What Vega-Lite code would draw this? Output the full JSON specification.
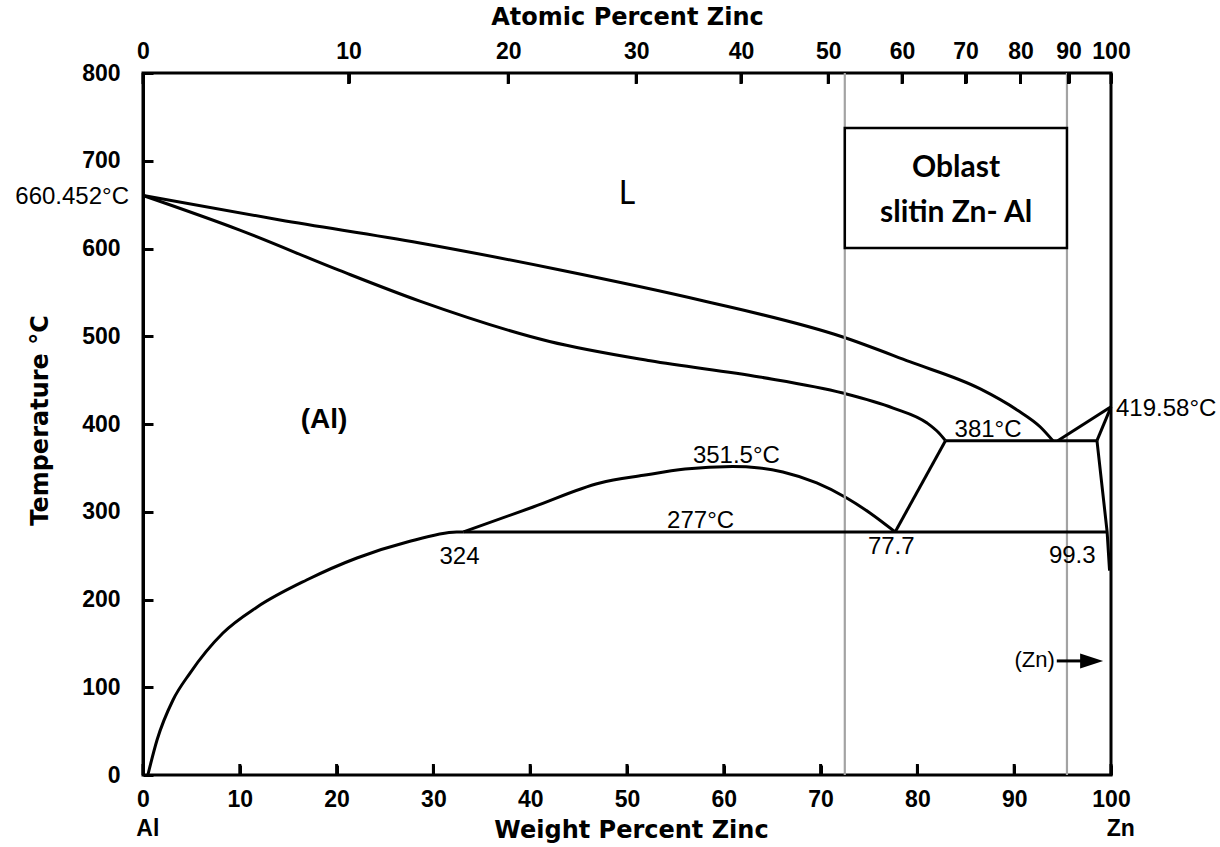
{
  "$schema": "https://vega.github.io/schema/vega-lite/v6.json",
  "width": 968,
  "height": 702,
  "autosize": {"type": "none"},
  "padding": {"left": 143, "top": 73, "right": 109, "bottom": 72},
  "background": "white",
  "config": {"view": {"stroke": "black", "strokeWidth": 3}, "font": "Liberation Sans"},
  "datasets": {
    "curves": [
      {"series": "liquidus", "o": 0, "wt": 0, "T": 660.452},
      {"series": "liquidus", "o": 1, "wt": 14.15, "T": 632.5},
      {"series": "liquidus", "o": 2, "wt": 28.6, "T": 606.3},
      {"series": "liquidus", "o": 3, "wt": 43.1, "T": 575.5},
      {"series": "liquidus", "o": 4, "wt": 57.5, "T": 541.3},
      {"series": "liquidus", "o": 5, "wt": 72.3, "T": 499.1},
      {"series": "liquidus", "o": 6, "wt": 79.2, "T": 471},
      {"series": "liquidus", "o": 7, "wt": 86.5, "T": 440},
      {"series": "liquidus", "o": 8, "wt": 90.3, "T": 416},
      {"series": "liquidus", "o": 9, "wt": 92.7, "T": 396.6},
      {"series": "liquidus", "o": 10, "wt": 94, "T": 381},
      {"series": "solidus", "o": 0, "wt": 0, "T": 660.452},
      {"series": "solidus", "o": 1, "wt": 10, "T": 621},
      {"series": "solidus", "o": 2, "wt": 20.3, "T": 575},
      {"series": "solidus", "o": 3, "wt": 28.6, "T": 540},
      {"series": "solidus", "o": 4, "wt": 42, "T": 494},
      {"series": "solidus", "o": 5, "wt": 52.4, "T": 472},
      {"series": "solidus", "o": 6, "wt": 63.7, "T": 453.6},
      {"series": "solidus", "o": 7, "wt": 72.3, "T": 435.3},
      {"series": "solidus", "o": 8, "wt": 77.5, "T": 418.2},
      {"series": "solidus", "o": 9, "wt": 81, "T": 401.1},
      {"series": "solidus", "o": 10, "wt": 82.2, "T": 390},
      {"series": "solidus", "o": 11, "wt": 82.9, "T": 381},
      {"series": "dome", "o": 0, "wt": 33.1, "T": 277},
      {"series": "dome", "o": 1, "wt": 40.3, "T": 305.4},
      {"series": "dome", "o": 2, "wt": 47.2, "T": 332.8},
      {"series": "dome", "o": 3, "wt": 51.7, "T": 341.5},
      {"series": "dome", "o": 4, "wt": 56, "T": 348.6},
      {"series": "dome", "o": 5, "wt": 60.9, "T": 351.5},
      {"series": "dome", "o": 6, "wt": 63.7, "T": 349.9},
      {"series": "dome", "o": 7, "wt": 66.1, "T": 345.3},
      {"series": "dome", "o": 8, "wt": 69.6, "T": 332.8},
      {"series": "dome", "o": 9, "wt": 72.7, "T": 315.7},
      {"series": "dome", "o": 10, "wt": 75.1, "T": 298.6},
      {"series": "dome", "o": 11, "wt": 77.7, "T": 277},
      {"series": "solvus", "o": 0, "wt": 0.5, "T": 0},
      {"series": "solvus", "o": 1, "wt": 1.45, "T": 39.9},
      {"series": "solvus", "o": 2, "wt": 3.1, "T": 85.5},
      {"series": "solvus", "o": 3, "wt": 4.86, "T": 116.2},
      {"series": "solvus", "o": 4, "wt": 8.26, "T": 161.8},
      {"series": "solvus", "o": 5, "wt": 11.8, "T": 191.5},
      {"series": "solvus", "o": 6, "wt": 16.9, "T": 222.2},
      {"series": "solvus", "o": 7, "wt": 22.1, "T": 247.3},
      {"series": "solvus", "o": 8, "wt": 27.3, "T": 265.5},
      {"series": "solvus", "o": 9, "wt": 32.4, "T": 276.9},
      {"series": "solvus", "o": 10, "wt": 33.1, "T": 277}
    ],
    "lines": [
      {"series": "eutectic", "o": 0, "wt": 82.9, "T": 381},
      {"series": "eutectic", "o": 1, "wt": 98.55, "T": 381},
      {"series": "monotectoid", "o": 0, "wt": 82.9, "T": 381},
      {"series": "monotectoid", "o": 1, "wt": 77.7, "T": 277},
      {"series": "eutectoid", "o": 0, "wt": 33.1, "T": 277},
      {"series": "eutectoid", "o": 1, "wt": 99.6, "T": 277},
      {"series": "znLiquidus", "o": 0, "wt": 94.5, "T": 381},
      {"series": "znLiquidus", "o": 1, "wt": 100, "T": 419.58},
      {"series": "znSolidus", "o": 0, "wt": 98.55, "T": 381},
      {"series": "znSolidus", "o": 1, "wt": 100, "T": 419.58},
      {"series": "znSolvus", "o": 0, "wt": 98.55, "T": 381},
      {"series": "znSolvus", "o": 1, "wt": 99.6, "T": 277},
      {"series": "znSolvus", "o": 2, "wt": 99.85, "T": 233}
    ],
    "ticksBottom": [
      {"wt": 0, "T": 0}, {"wt": 10, "T": 0}, {"wt": 20, "T": 0}, {"wt": 30, "T": 0},
      {"wt": 40, "T": 0}, {"wt": 50, "T": 0}, {"wt": 60, "T": 0}, {"wt": 70, "T": 0},
      {"wt": 80, "T": 0}, {"wt": 90, "T": 0}, {"wt": 100, "T": 0}
    ],
    "ticksTop": [
      {"wt": 0, "T": 800}, {"wt": 21.24, "T": 800}, {"wt": 37.73, "T": 800}, {"wt": 50.95, "T": 800},
      {"wt": 61.77, "T": 800}, {"wt": 70.79, "T": 800}, {"wt": 78.42, "T": 800}, {"wt": 84.97, "T": 800},
      {"wt": 90.65, "T": 800}, {"wt": 95.61, "T": 800}, {"wt": 100, "T": 800}
    ],
    "guides": [{"wt": 72.5}, {"wt": 95.45}],
    "box": [{"wt1": 72.5, "wt2": 95.45, "T1": 600.6, "T2": 737.3}],
    "boxText": [
      {"label": "Oblast", "wt": 84, "T": 692},
      {"label": "slitin Zn- Al", "wt": 84, "T": 640.5}
    ],
    "ann": [
      {"label": "381°C", "wt": 87.3, "T": 393.2},
      {"label": "351.5°C", "wt": 61.3, "T": 363.5},
      {"label": "277°C", "wt": 57.6, "T": 289.5},
      {"label": "324", "wt": 32.7, "T": 248.4},
      {"label": "77.7", "wt": 77.3, "T": 259.8},
      {"label": "99.3", "wt": 96.0, "T": 249.6}
    ],
    "meltAl": [{"label": "660.452°C", "wt": 0, "T": 659}],
    "meltZn": [{"label": "419.58°C", "wt": 100, "T": 417}],
    "znLabel": [{"label": "(Zn)", "wt": 94.2, "T": 131.6}],
    "arrow": [{"wt1": 94.4, "wt2": 97.3, "T": 130}],
    "arrowHead": [{"wt": 98.0, "T": 130}],
    "phaseL": [{"label": "L", "wt": 50, "T": 662}],
    "phaseAl": [{"label": "(Al)", "wt": 18.7, "T": 404.6}],
    "ends": [{"label": "Al", "wt": 0.5, "T": 0}, {"label": "Zn", "wt": 101, "T": 0}]
  },
  "resolve": {"axis": {"x": "independent"}},
  "layer": [
    {
      "data": {"name": "curves"},
      "mark": {"type": "line", "interpolate": "monotone", "color": "black", "strokeWidth": 3},
      "encoding": {
        "x": {
          "field": "wt", "type": "quantitative",
          "scale": {"domain": [0, 100], "nice": false, "zero": false},
          "axis": {
            "orient": "bottom",
            "values": [0, 10, 20, 30, 40, 50, 60, 70, 80, 90, 100],
            "title": "Weight Percent Zinc",
            "titleFont": "DejaVu Sans", "titleFontSize": 24, "titleFontWeight": "bold", "titleColor": "black",
            "titleX": 488, "titleY": 55, "titleBaseline": "middle", "titleAlign": "center",
            "labelFont": "Liberation Sans", "labelFontSize": 23, "labelFontWeight": "bold", "labelColor": "black",
            "labelPadding": 23, "labelFlush": false, "labelOverlap": false,
            "tickSize": -10, "tickWidth": 3, "tickColor": "black",
            "domain": false, "grid": false
          }
        },
        "y": {
          "field": "T", "type": "quantitative",
          "scale": {"domain": [0, 800], "nice": false, "zero": false},
          "axis": {
            "orient": "left",
            "values": [0, 100, 200, 300, 400, 500, 600, 700, 800],
            "title": "Temperature °C",
            "titleFont": "DejaVu Sans", "titleFontSize": 24, "titleFontWeight": "bold", "titleColor": "black",
            "titleX": -103, "titleY": 347, "titleBaseline": "middle", "titleAlign": "center", "titleAngle": -90,
            "labelFont": "Liberation Sans", "labelFontSize": 23, "labelFontWeight": "bold", "labelColor": "black",
            "labelPadding": 33, "labelFlush": false, "labelOverlap": false,
            "ticks": true, "tickSize": -10, "tickWidth": 3, "tickColor": "black",
            "domain": true, "domainColor": "black", "domainWidth": 3, "grid": false
          }
        },
        "detail": {"field": "series", "type": "nominal"},
        "order": {"field": "o", "type": "quantitative"}
      }
    },
    {
      "data": {"name": "guides"},
      "mark": {"type": "rule", "color": "#a3a3a3", "strokeWidth": 2.2},
      "encoding": {
        "x": {
          "field": "wt", "type": "quantitative",
          "axis": {
            "orient": "top",
            "values": [0, 21.24, 37.73, 50.95, 61.77, 70.79, 78.42, 84.97, 90.65, 95.61, 100],
            "labelExpr": "'' + (indexof([0, 21.24, 37.73, 50.95, 61.77, 70.79, 78.42, 84.97, 90.65, 95.61, 100], datum.value) * 10)",
            "title": "Atomic Percent Zinc",
            "titleFont": "DejaVu Sans", "titleFontSize": 24, "titleFontWeight": "bold", "titleColor": "black",
            "titleX": 484, "titleY": -56, "titleBaseline": "middle", "titleAlign": "center",
            "labelFont": "Liberation Sans", "labelFontSize": 23, "labelFontWeight": "bold", "labelColor": "black",
            "labelPadding": 20, "labelFlush": false, "labelOverlap": false,
            "tickSize": -10, "tickWidth": 3, "tickColor": "black",
            "domain": false, "grid": false
          }
        }
      }
    },
    {
      "data": {"name": "ticksBottom"},
      "mark": {"type": "rule", "color": "black", "strokeWidth": 3, "y2Offset": -11},
      "encoding": {
        "x": {"field": "wt", "type": "quantitative", "axis": null},
        "y": {"field": "T", "type": "quantitative"},
        "y2": {"field": "T"}
      }
    },
    {
      "data": {"name": "ticksTop"},
      "mark": {"type": "rule", "color": "black", "strokeWidth": 3, "y2Offset": 11},
      "encoding": {
        "x": {"field": "wt", "type": "quantitative", "axis": null},
        "y": {"field": "T", "type": "quantitative"},
        "y2": {"field": "T"}
      }
    },
    {
      "data": {"name": "box"},
      "mark": {"type": "rect", "fill": "white", "stroke": "black", "strokeWidth": 2.5},
      "encoding": {
        "x": {"field": "wt1", "type": "quantitative", "axis": null},
        "x2": {"field": "wt2"},
        "y": {"field": "T1", "type": "quantitative"},
        "y2": {"field": "T2"}
      }
    },
    {
      "data": {"name": "lines"},
      "mark": {"type": "line", "interpolate": "linear", "color": "black", "strokeWidth": 3},
      "encoding": {
        "x": {"field": "wt", "type": "quantitative", "axis": null},
        "y": {"field": "T", "type": "quantitative"},
        "detail": {"field": "series", "type": "nominal"},
        "order": {"field": "o", "type": "quantitative"}
      }
    },
    {
      "data": {"name": "arrow"},
      "mark": {"type": "rule", "color": "black", "strokeWidth": 3},
      "encoding": {
        "x": {"field": "wt1", "type": "quantitative", "axis": null},
        "x2": {"field": "wt2"},
        "y": {"field": "T", "type": "quantitative"}
      }
    },
    {
      "data": {"name": "arrowHead"},
      "mark": {"type": "point", "shape": "M-1,-0.65L1,0L-1,0.65Z", "size": 529, "filled": true, "color": "black", "opacity": 1},
      "encoding": {
        "x": {"field": "wt", "type": "quantitative", "axis": null},
        "y": {"field": "T", "type": "quantitative"}
      }
    },
    {
      "data": {"name": "ann"},
      "mark": {"type": "text", "font": "Liberation Sans", "fontSize": 24, "color": "black", "align": "center", "baseline": "middle"},
      "encoding": {
        "x": {"field": "wt", "type": "quantitative", "axis": null},
        "y": {"field": "T", "type": "quantitative"},
        "text": {"field": "label"}
      }
    },
    {
      "data": {"name": "meltAl"},
      "mark": {"type": "text", "font": "Liberation Sans", "fontSize": 24, "color": "black", "align": "right", "baseline": "middle", "dx": -14},
      "encoding": {
        "x": {"field": "wt", "type": "quantitative", "axis": null},
        "y": {"field": "T", "type": "quantitative"},
        "text": {"field": "label"}
      }
    },
    {
      "data": {"name": "meltZn"},
      "mark": {"type": "text", "font": "Liberation Sans", "fontSize": 24, "color": "black", "align": "left", "baseline": "middle", "dx": 5},
      "encoding": {
        "x": {"field": "wt", "type": "quantitative", "axis": null},
        "y": {"field": "T", "type": "quantitative"},
        "text": {"field": "label"}
      }
    },
    {
      "data": {"name": "znLabel"},
      "mark": {"type": "text", "font": "Liberation Sans", "fontSize": 22, "color": "black", "align": "right", "baseline": "middle"},
      "encoding": {
        "x": {"field": "wt", "type": "quantitative", "axis": null},
        "y": {"field": "T", "type": "quantitative"},
        "text": {"field": "label"}
      }
    },
    {
      "data": {"name": "phaseL"},
      "mark": {"type": "text", "font": "Lato", "fontSize": 32, "color": "black", "align": "center", "baseline": "middle"},
      "encoding": {
        "x": {"field": "wt", "type": "quantitative", "axis": null},
        "y": {"field": "T", "type": "quantitative"},
        "text": {"field": "label"}
      }
    },
    {
      "data": {"name": "phaseAl"},
      "mark": {"type": "text", "font": "Liberation Sans", "fontSize": 28, "fontWeight": "bold", "color": "black", "align": "center", "baseline": "middle"},
      "encoding": {
        "x": {"field": "wt", "type": "quantitative", "axis": null},
        "y": {"field": "T", "type": "quantitative"},
        "text": {"field": "label"}
      }
    },
    {
      "data": {"name": "boxText"},
      "mark": {"type": "text", "font": "Lato", "fontSize": 30, "fontWeight": "bold", "color": "black", "align": "center", "baseline": "middle"},
      "encoding": {
        "x": {"field": "wt", "type": "quantitative", "axis": null},
        "y": {"field": "T", "type": "quantitative"},
        "text": {"field": "label"}
      }
    },
    {
      "data": {"name": "ends"},
      "mark": {"type": "text", "font": "Liberation Sans", "fontSize": 23, "fontWeight": "bold", "color": "black", "align": "center", "baseline": "middle", "dy": 54},
      "encoding": {
        "x": {"field": "wt", "type": "quantitative", "axis": null},
        "y": {"field": "T", "type": "quantitative"},
        "text": {"field": "label"}
      }
    }
  ]
}
